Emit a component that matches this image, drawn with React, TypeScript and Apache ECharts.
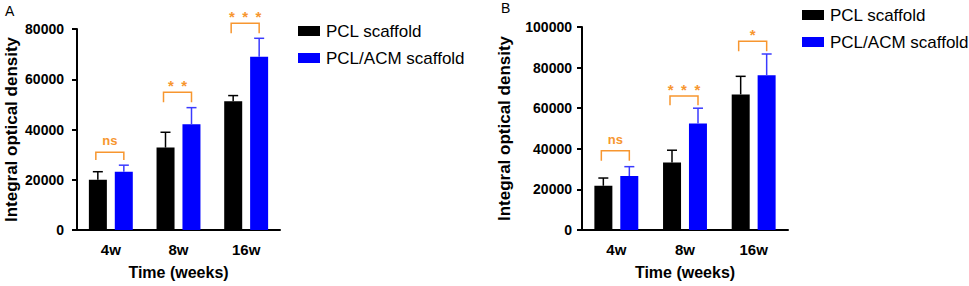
import React, { useEffect, useRef } from "react";
import * as echarts from "echarts";

const categories = ["4w", "8w", "16w"];
const seriesNames = ["PCL scaffold", "PCL/ACM scaffold"];

// Panel A
const aPcl = [20000, 32800, 51200];
const aPclSd = [3200, 6100, 2300];
const aAcm = [23200, 42100, 69000];
const aAcmSd = [2600, 6600, 7300];
const aBracketLevel = [30900, 54800, 82300];
const aBracketDrop = [27900, 50800, 78300];
const aSig = ["ns", "* *", "* * *"];
const aYTicks = { min: 0, max: 80000, interval: 20000 };

// Panel B
const bPcl = [21800, 33300, 66800];
const bPclSd = [3800, 6000, 8900];
const bAcm = [26600, 52500, 76200];
const bAcmSd = [4600, 7500, 10500];
const bBracketLevel = [39000, 66000, 93000];
const bBracketDrop = [34100, 61500, 88000];
const bSig = ["ns", "* * *", "*"];
const bYTicks = { min: 0, max: 100000, interval: 20000 };

const FONT = "Liberation Sans, Arial, Helvetica, sans-serif";
const BLACK = "#000000";
const BLUE = "#0000ff";
const BLUE_ERR = "#3a3aff";
const ORANGE = "#f7962f";
const OFFSET = 13;

function errorSeries(gridIdx: number, means: number[], sds: number[], offset: number, color: string) {
  return {
    type: "custom",
    xAxisIndex: gridIdx,
    yAxisIndex: gridIdx,
    clip: false,
    silent: true,
    z: 5,
    data: means.map((m, i) => [i, m, m + sds[i]]),
    renderItem: (params: any, api: any) => {
      const c = api.coord([api.value(0), api.value(1)]);
      const t = api.coord([api.value(0), api.value(2)]);
      const x = c[0] + offset;
      return {
        type: "group",
        children: [
          { type: "line", shape: { x1: x, y1: c[1], x2: x, y2: t[1] }, style: { stroke: color, lineWidth: 1.5 } },
          { type: "line", shape: { x1: x - 5, y1: t[1], x2: x + 5, y2: t[1] }, style: { stroke: color, lineWidth: 1.5 } },
        ],
      };
    },
  };
}

function bracketSeries(gridIdx: number, levels: number[], drops: number[], labels: string[]) {
  return {
    type: "custom",
    xAxisIndex: gridIdx,
    yAxisIndex: gridIdx,
    clip: false,
    silent: true,
    z: 6,
    data: levels.map((l, i) => [i, l, drops[i]]),
    renderItem: (params: any, api: any) => {
      const c = api.coord([api.value(0), api.value(1)]);
      const d = api.coord([api.value(0), api.value(2)]);
      const left = c[0] - OFFSET - 2;
      const right = c[0] + OFFSET;
      const label = labels[params.dataIndex];
      const isNs = label === "ns";
      return {
        type: "group",
        children: [
          {
            type: "polyline",
            shape: { points: [[left, d[1]], [left, c[1]], [right, c[1]], [right, d[1]]] },
            style: { stroke: ORANGE, lineWidth: 1.5, fill: null },
          },
          {
            type: "text",
            x: (left + right) / 2,
            y: isNs ? c[1] - 5 : c[1] + 1,
            style: {
              text: isNs ? label : label.split(" ").join("\u2002"),
              fill: ORANGE,
              font: isNs ? `bold 13px ${FONT}` : `bold 15px ${FONT}`,
              align: "center",
              verticalAlign: "bottom",
            },
          },
        ],
      };
    },
  };
}

function barSeries(gridIdx: number, name: string, data: number[], color: string) {
  return {
    type: "bar",
    name,
    xAxisIndex: gridIdx,
    yAxisIndex: gridIdx,
    data,
    barWidth: 18,
    barGap: "44%",
    itemStyle: { color },
    z: 3,
  };
}

function xAxis(gridIdx: number) {
  return {
    type: "category",
    gridIndex: gridIdx,
    data: categories,
    name: "Time (weeks)",
    nameLocation: "middle",
    nameGap: 34,
    nameTextStyle: { fontFamily: FONT, fontWeight: "bold", fontSize: 16, color: BLACK },
    axisLine: { lineStyle: { color: BLACK, width: 2 } },
    axisTick: { alignWithLabel: true, length: 5, lineStyle: { color: BLACK, width: 2 } },
    axisLabel: { fontFamily: FONT, fontWeight: "bold", fontSize: 15, color: BLACK, margin: 12 },
    splitLine: { show: false },
  };
}

function yAxis(gridIdx: number, ticks: { min: number; max: number; interval: number }, nameGap: number, margin: number) {
  return {
    type: "value",
    gridIndex: gridIdx,
    min: ticks.min,
    max: ticks.max,
    interval: ticks.interval,
    name: "Integral optical density",
    nameLocation: "middle",
    nameGap,
    nameTextStyle: { fontFamily: FONT, fontWeight: "bold", fontSize: 17, color: BLACK },
    axisLine: { show: true, lineStyle: { color: BLACK, width: 2 } },
    axisTick: { show: true, length: 5, lineStyle: { color: BLACK, width: 2 } },
    axisLabel: {
      fontFamily: FONT,
      fontWeight: "bold",
      fontSize: 14,
      color: BLACK,
      margin,
      formatter: (v: number) => String(v),
    },
    splitLine: { show: false },
  };
}

function legend(left: number, top: number) {
  return {
    left,
    top,
    orient: "vertical",
    itemWidth: 22,
    itemHeight: 10,
    itemGap: 9,
    icon: "rect",
    data: seriesNames,
    selectedMode: false,
    textStyle: { fontFamily: FONT, fontSize: 17, color: BLACK, lineHeight: 18, padding: [0, 0, 0, 1] },
  };
}

export default function App() {
  const ref = useRef<HTMLDivElement>(null);
  useEffect(() => {
    if (!ref.current) return;
    const chart = echarts.init(ref.current, null, { renderer: "svg" });
    chart.setOption({
      animation: false,
      backgroundColor: "#ffffff",
      grid: [
        { left: 77, top: 29, width: 203, height: 201 },
        { left: 582, top: 27, width: 206, height: 203 },
      ],
      xAxis: [xAxis(0), xAxis(1)],
      yAxis: [yAxis(0, aYTicks, 57, 13), yAxis(1, bYTicks, 69, 10)],
      legend: [legend(293, 17), legend(797, 1)],
      graphic: [
        { type: "text", left: 5, top: 4, style: { text: "A", font: `14px ${FONT}`, fill: BLACK } },
        { type: "text", left: 501, top: 1, style: { text: "B", font: `14px ${FONT}`, fill: BLACK } },
      ],
      series: [
        barSeries(0, seriesNames[0], aPcl, BLACK),
        barSeries(0, seriesNames[1], aAcm, BLUE),
        errorSeries(0, aPcl, aPclSd, -OFFSET, BLACK),
        errorSeries(0, aAcm, aAcmSd, OFFSET, BLUE_ERR),
        bracketSeries(0, aBracketLevel, aBracketDrop, aSig),
        barSeries(1, seriesNames[0], bPcl, BLACK),
        barSeries(1, seriesNames[1], bAcm, BLUE),
        errorSeries(1, bPcl, bPclSd, -OFFSET, BLACK),
        errorSeries(1, bAcm, bAcmSd, OFFSET, BLUE_ERR),
        bracketSeries(1, bBracketLevel, bBracketDrop, bSig),
      ],
    });
    return () => chart.dispose();
  }, []);
  return (
    <div
      ref={ref}
      style={{ position: "fixed", left: 0, top: 0, width: 969, height: 286, background: "#fff" }}
    />
  );
}
